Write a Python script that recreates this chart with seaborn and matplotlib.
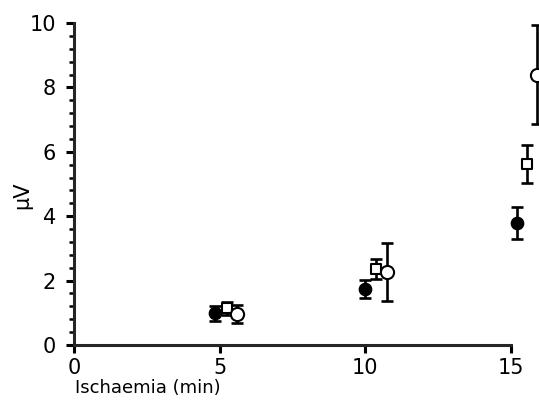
import numpy as np
import pandas as pd
import matplotlib
matplotlib.use("Agg")
import matplotlib.pyplot as plt
import seaborn as sns
from matplotlib.ticker import MultipleLocator

# Mean amplitude (µV) against duration of ischaemia, three groups
time_filled = [4.85, 10.0, 15.2]
amp_filled = [0.98, 1.73, 3.78]
err_filled = [0.24, 0.28, 0.50]

time_square = [5.24, 10.38, 15.54]
amp_square = [1.14, 2.36, 5.62]
err_square = [0.20, 0.31, 0.60]

time_open = [5.59, 10.74, 15.88]
amp_open = [0.96, 2.26, 8.40]
err_open = [0.29, 0.90, 1.55]

x_ticks = [0, 5, 10, 15]
y_ticks = [0, 2, 4, 6, 8, 10]
x_label = "Ischaemia (min)"
y_label = "µV"

df = pd.concat([
    pd.DataFrame({"t": time_filled, "amp": amp_filled, "err": err_filled, "group": "filled"}),
    pd.DataFrame({"t": time_square, "amp": amp_square, "err": err_square, "group": "square"}),
    pd.DataFrame({"t": time_open, "amp": amp_open, "err": err_open, "group": "open"}),
], ignore_index=True)

sns.set_style("ticks")
plt.rcParams["font.family"] = ["DejaVu Sans"]
plt.rcParams["text.color"] = "black"

fig = plt.figure(figsize=(5.39, 4.01), dpi=100)
ax = fig.add_axes([74 / 539, 56 / 401, 466 / 539, 322 / 401])

styles = {
    "filled": dict(marker="o", facecolor="black", s=70),
    "square": dict(marker="s", facecolor="white", s=45),
    "open": dict(marker="o", facecolor="white", s=90),
}

for g, sub in df.groupby("group", sort=False):
    ax.errorbar(sub["t"], sub["amp"], yerr=sub["err"], fmt="none",
                ecolor="black", elinewidth=1.9, capsize=4, capthick=1.9,
                zorder=2, clip_on=False)
    st = styles[g]
    sns.scatterplot(data=sub, x="t", y="amp", ax=ax, marker=st["marker"],
                    s=st["s"], color=st["facecolor"], edgecolor="black",
                    linewidth=1.5, zorder=3, clip_on=False, legend=False)

ax.set_xlim(0, 16)
ax.set_ylim(0, 10)
ax.set_xticks(x_ticks)
ax.set_xticklabels([str(v) for v in x_ticks])
ax.set_yticks(y_ticks)
ax.set_yticklabels([str(v) for v in y_ticks])
ax.yaxis.set_minor_locator(MultipleLocator(0.4))

for side in ["top", "right"]:
    ax.spines[side].set_visible(False)
ax.spines["left"].set_linewidth(2.2)
ax.spines["bottom"].set_linewidth(2.2)
ax.spines["bottom"].set_bounds(0, 15)

ax.tick_params(axis="both", which="major", direction="out", length=6,
               width=2.2, labelsize=15, color="black", labelcolor="black")
ax.tick_params(axis="y", which="minor", direction="out", length=3.5, width=1.8,
               color="black")
ax.tick_params(axis="y", which="major", pad=7)
ax.tick_params(axis="x", which="major", pad=3)

ax.set_xlabel("")
ax.set_ylabel("")
fig.text(75 / 539, 1 - 388 / 401, x_label, fontsize=13, ha="left", va="center",
         color="black")
fig.text(22 / 539, 1 - 195 / 401, y_label, fontsize=15, ha="center", va="center",
         rotation=90, color="black")

fig.savefig("out.png", dpi=100, facecolor="white")
